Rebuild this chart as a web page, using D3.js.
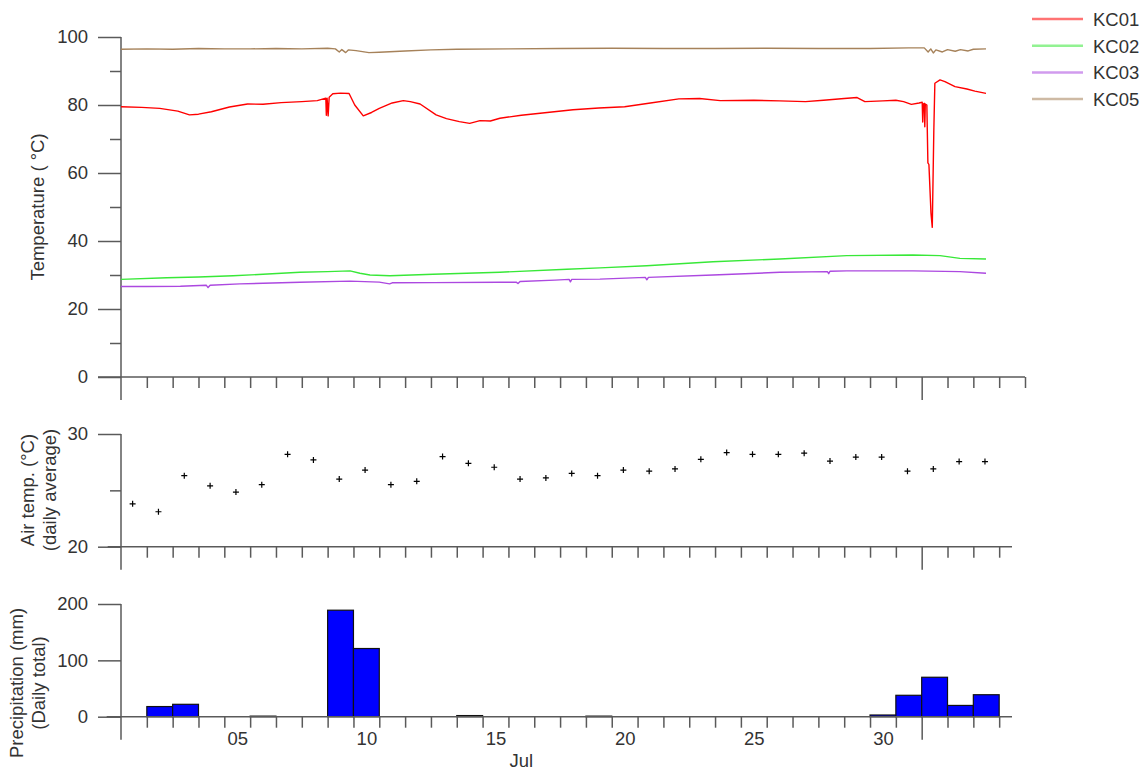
<!DOCTYPE html>
<html>
<head>
<meta charset="utf-8">
<script src="https://cdn.jsdelivr.net/npm/d3@7"></script>
<style>
  body { margin: 0; background: #fff; }
  text { font-family: "Liberation Sans", Arial, sans-serif; fill: #333; }
</style>
</head>
<body>
<script>
// day offsets from Jul 1 00:00, temperature in degC
let kc01 = [[0, 79.5], [0.8, 79.3], [1.5, 79.0], [2.2, 78.2], [2.65, 77.1], [3.0, 77.3], [3.5, 78.0],
  [4.2, 79.4], [4.9, 80.3], [5.5, 80.2], [6.2, 80.7], [7.0, 81.0], [7.6, 81.3], [7.93, 82.0], [7.95, 77.0],
  [7.98, 82.0], [8.02, 76.8], [8.06, 82.3], [8.2, 83.3], [8.5, 83.5], [8.83, 83.4], [9.05, 80.0], [9.38, 76.8],
  [9.7, 77.8], [10.0, 79.0], [10.5, 80.6], [10.93, 81.3], [11.2, 81.0], [11.58, 80.3], [12.2, 77.1], [12.6, 76.0],
  [13.1, 75.1], [13.5, 74.6], [13.9, 75.4], [14.3, 75.3], [14.67, 76.1], [15.5, 77.0], [16.5, 77.8], [17.5, 78.6],
  [18.5, 79.1], [19.5, 79.5], [20.5, 80.6], [21.6, 81.8], [22.4, 81.9], [23.2, 81.3], [24.5, 81.4], [25.5, 81.2],
  [26.5, 81.0], [27.2, 81.4], [28.0, 81.9], [28.5, 82.2], [28.8, 81.0], [29.5, 81.2], [30.0, 81.4], [30.3, 81.0],
  [30.6, 80.2], [30.9, 80.6], [31.02, 80.8], [31.04, 75.0], [31.06, 80.3], [31.1, 80.5], [31.12, 73.6],
  [31.14, 80.3], [31.2, 80.0], [31.24, 63.0], [31.28, 62.5], [31.36, 48.2], [31.41, 44.0], [31.47, 72.6],
  [31.51, 86.4], [31.71, 87.4], [31.9, 86.9], [32.29, 85.4], [32.75, 84.7], [33.06, 84.1], [33.49, 83.4]];

let kc02 = [[0, 28.7], [1.77, 29.2], [3.0, 29.4], [4.34, 29.8], [5.5, 30.2], [6.93, 30.8], [8.0, 31.0],
  [8.87, 31.2], [9.25, 30.5], [9.64, 30.0], [10.41, 29.8], [12.08, 30.2], [14.67, 30.8], [17.26, 31.7],
  [18.54, 32.1], [20.35, 32.7], [22.92, 33.9], [25.51, 34.7], [28.1, 35.7], [30.66, 35.9], [31.71, 35.7],
  [32.48, 34.9], [33.49, 34.7]];

let kc03 = [[0, 26.6], [1.0, 26.6], [2.3, 26.7], [3.3, 27.0], [3.37, 26.3], [3.45, 27.0], [4.6, 27.4],
  [6.93, 27.85], [8.87, 28.2], [10.0, 27.9], [10.4, 27.4], [10.5, 27.7], [12.08, 27.75], [14.67, 27.85],
  [15.3, 27.9], [15.37, 27.5], [15.45, 28.1], [16.8, 28.5], [17.35, 28.7], [17.4, 28.0], [17.45, 28.7],
  [18.54, 28.8], [20.3, 29.3], [20.36, 28.6], [20.42, 29.3], [22.92, 30.0], [25.51, 30.8], [27.35, 31.0],
  [27.4, 30.4], [27.45, 31.1], [28.1, 31.2], [30.66, 31.2], [32.48, 31.0], [33.49, 30.5]];

let kc05 = [[0, 96.4], [1, 96.5], [2, 96.4], [3, 96.6], [4, 96.5], [5, 96.5], [6, 96.6], [7, 96.5], [8, 96.7],
  [8.3, 96.5], [8.45, 95.6], [8.55, 96.3], [8.7, 95.4], [8.8, 96.2], [9.1, 96.0], [9.6, 95.4], [10.0, 95.5],
  [11, 95.9], [12, 96.2], [13, 96.4], [15, 96.5], [17, 96.6], [19, 96.7], [21, 96.6], [23, 96.6], [25, 96.7],
  [27, 96.6], [29, 96.6], [30.5, 96.8], [31.1, 96.8], [31.25, 95.6], [31.35, 96.5], [31.45, 95.3], [31.55, 96.2],
  [31.8, 95.6], [32.0, 96.3], [32.3, 95.8], [32.5, 96.3], [32.8, 95.9], [33.0, 96.4], [33.49, 96.5]];

let seriesNames = ["KC01", "KC02", "KC03", "KC05"];
let seriesColors = ["#ff0000", "#38e838", "#ac48e0", "#a6825a"];

// daily values, Jul 1 .. Aug 3
let airTemp = [23.8, 23.1, 26.3, 25.4, 24.85, 25.5, 28.2, 27.7, 26.0, 26.8, 25.5, 25.8, 28.0, 27.4, 27.05,
  26.0, 26.1, 26.5, 26.3, 26.8, 26.7, 26.9, 27.75, 28.35, 28.2, 28.2, 28.3, 27.6, 27.95, 27.95, 26.7, 26.9,
  27.55, 27.55];
let precip = [0, 18, 22, 0, 0, 1, 0, 0, 189, 121, 0, 0, 0, 2, 0, 0, 0, 0, 1, 0, 0, 0, 0, 0, 0, 0, 0, 0, 0,
  3, 38, 70, 20, 39];

let tempTicks = [0, 20, 40, 60, 80, 100];
let airTicks = [20, 30];
let precipTicks = [0, 100, 200];
let dayLabels = ["05", "10", "15", "20", "25", "30"];
let monthLabel = "Jul";

let width = 1147, height = 774;
let svg = d3.select("body").append("svg").attr("width", width).attr("height", height);

let t0 = Date.UTC(2012, 6, 1);
let toDate = d => new Date(t0 + d * 864e5);

let x = d3.scaleUtc().domain([toDate(0), toDate(35)]).range([121, 1025]);
let yTemp = d3.scaleLinear().domain([0, 100]).range([377, 37]);
let yAir = d3.scaleLinear().domain([20, 30]).range([546.7, 434]);
let yRain = d3.scaleLinear().domain([0, 200]).range([716.7, 604]);

let axisColor = "#5a5a5a";

function styleAxis(g) {
  g.select(".domain").remove();
  g.selectAll("line").attr("stroke", axisColor).attr("stroke-width", 1.5);
  g.selectAll("text").attr("fill", "#333").style("font-size", "18.5px")
    .style("font-family", '"Liberation Sans", Arial, sans-serif');
}

// one panel: y axis with major/minor ticks + x axis with daily ticks
function drawFrame(y, majors, minors, lastTickDay, xStart, xEnd) {
  let y0 = y.range()[0];
  let g = svg.append("g");

  // vertical axis line runs below the x axis (also acts as Jul 1 month tick)
  g.append("line").attr("x1", 121).attr("x2", 121).attr("y1", y.range()[1]).attr("y2", y0 + 23)
    .attr("stroke", axisColor).attr("stroke-width", 1.5);
  g.append("line").attr("x1", xStart).attr("x2", xEnd).attr("y1", y0).attr("y2", y0)
    .attr("stroke", axisColor).attr("stroke-width", 1.5);

  let ya = g.append("g").attr("transform", "translate(121,0)")
    .call(d3.axisLeft(y).tickValues(majors).tickSize(23).tickPadding(10).tickFormat(d3.format("d")));
  styleAxis(ya);
  if (minors.length) {
    let ym = g.append("g").attr("transform", "translate(121,0)")
      .call(d3.axisLeft(y).tickValues(minors).tickSize(11).tickFormat(""));
    styleAxis(ym);
  }

  let days = d3.range(1, lastTickDay + 1).filter(d => d !== 31).map(toDate);
  let xa = g.append("g").attr("transform", "translate(0," + y0 + ")")
    .call(d3.axisBottom(x).tickValues(days).tickSize(11).tickFormat(""));
  styleAxis(xa);
  let xm = g.append("g").attr("transform", "translate(0," + y0 + ")")
    .call(d3.axisBottom(x).tickValues([toDate(31)]).tickSize(23).tickFormat(""));
  styleAxis(xm);
  return g;
}

// ---------- top panel: temperatures ----------
drawFrame(yTemp, tempTicks, [10, 30, 50, 70, 90], 35, 98, 1025);

let line = d3.line().x(d => x(toDate(d[0]))).y(d => yTemp(d[1]));
[kc01, kc02, kc03, kc05].forEach((s, i) => {
  svg.append("path").datum(s)
    .attr("fill", "none")
    .attr("stroke", seriesColors[i])
    .attr("stroke-width", 1.4)
    .attr("stroke-linejoin", "round")
    .attr("d", line);
});

svg.append("text")
  .attr("transform", "translate(43.5,207) rotate(-90)")
  .attr("text-anchor", "middle")
  .style("font-size", "18.5px")
  .text("Temperature ( °C)");

// legend
let legend = svg.append("g");
seriesNames.forEach((n, i) => {
  let ly = 19 + i * 26.7;
  legend.append("line").attr("x1", 1032).attr("x2", 1083).attr("y1", ly).attr("y2", ly)
    .attr("stroke", seriesColors[i]).attr("stroke-width", 2.5).attr("stroke-opacity", 0.55);
  legend.append("text").attr("x", 1093).attr("y", ly + 7).style("font-size", "18.5px").text(n);
});

// ---------- middle panel: air temperature ----------
drawFrame(yAir, airTicks, [25], 34, 107.7, 1012);

svg.append("g").selectAll("path").data(airTemp).join("path")
  .attr("transform", (d, i) => "translate(" + x(toDate(i + 0.45)) + "," + yAir(d) + ")")
  .attr("d", "M-3,0H3M0,-3V3")
  .attr("stroke", "#000")
  .attr("stroke-width", 1.2)
  .attr("fill", "none");

svg.append("text")
  .attr("transform", "translate(33.5,490) rotate(-90)")
  .attr("text-anchor", "middle")
  .style("font-size", "18.5px")
  .text("Air temp. (°C)");
svg.append("text")
  .attr("transform", "translate(55.5,490) rotate(-90)")
  .attr("text-anchor", "middle")
  .style("font-size", "18.5px")
  .text("(daily average)");

// ---------- bottom panel: precipitation ----------
svg.append("g").selectAll("rect").data(precip.map((v, i) => ({ day: i, v: v })).filter(d => d.v > 0)).join("rect")
  .attr("x", d => x(toDate(d.day)))
  .attr("width", d => x(toDate(d.day + 1)) - x(toDate(d.day)))
  .attr("y", d => yRain(d.v))
  .attr("height", d => yRain(0) - yRain(d.v))
  .attr("fill", "#0000ff")
  .attr("stroke", "#111")
  .attr("stroke-width", 1.2);

drawFrame(yRain, precipTicks, [], 34, 106.7, 1012);

let lab = svg.append("g").attr("transform", "translate(0," + yRain(0) + ")")
  .call(d3.axisBottom(x).tickValues([5, 10, 15, 20, 25, 30].map(d => toDate(d - 0.5))).tickSize(0)
    .tickFormat((d, i) => dayLabels[i]));
styleAxis(lab);
lab.selectAll("text").attr("y", 28.3).attr("dy", 0);

svg.append("text")
  .attr("x", (x(toDate(0)) + x(toDate(31))) / 2)
  .attr("y", 767)
  .attr("text-anchor", "middle")
  .style("font-size", "18.5px")
  .text(monthLabel);

svg.append("text")
  .attr("transform", "translate(22.5,683) rotate(-90)")
  .attr("text-anchor", "middle")
  .style("font-size", "18.5px")
  .text("Precipitation (mm)");
svg.append("text")
  .attr("transform", "translate(44.5,683) rotate(-90)")
  .attr("text-anchor", "middle")
  .style("font-size", "18.5px")
  .text("(Daily total)");
</script>
</body>
</html>
